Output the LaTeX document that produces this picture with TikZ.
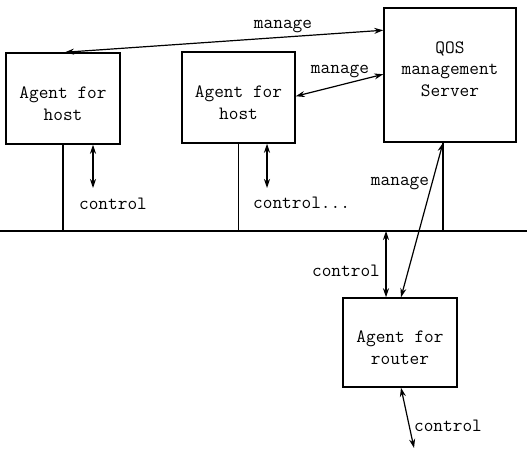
\documentclass[tikz,border=0pt]{standalone}
\usepackage{tikz}
\usetikzlibrary{calc, arrows.meta}

\tikzset{
    agentbox/.style={draw, line width=1.5pt},
    lbl/.style={font=\ttfamily\fontsize{18.8}{21.5}\selectfont, inner sep=0pt, align=center},
    link/.style={line width=1.2pt, {Stealth[length=9pt,width=6pt]}-{Stealth[length=9pt,width=6pt]}},
}

\begin{document}
\begin{tikzpicture}[x=1pt, y=-1pt]
    \useasboundingbox (0,0) rectangle (527,452);
    % The boxes
    \node[agentbox, minimum width=114pt, minimum height=91pt] (host1) at (63,98.5) {};
    \node[agentbox, minimum width=113pt, minimum height=91pt] (host2) at (238.5,97.5) {};
    \node[agentbox, minimum width=132pt, minimum height=134pt] (server) at (450,75) {};
    \node[agentbox, minimum width=114pt, minimum height=89pt] (router) at (400,342.5) {};
    \node[lbl] (host1txt) at ([yshift=-5pt]host1.center) {Agent for\\host};
    \node[lbl] (host2txt) at ([yshift=-5pt]host2.center) {Agent for\\host};
    \node[lbl] (servertxt) at ([yshift=6pt]server.center) {QOS\\management\\Server};
    \node[lbl] (routertxt) at ([yshift=-5pt]router.center) {Agent for\\router};
    % The network line
    \coordinate (busL) at (0,231);
    \coordinate (busR) at (527,231);
    \draw[line width=1.5pt] (busL) -- (busR);
    % Drops to the network
    \coordinate (srvfoot) at ([xshift=-7pt]server.south);
    \draw[line width=1.2pt] (host1.south) -- (host1.south |- busL);
    \draw[line width=1.2pt] (host2.south) -- (host2.south |- busL);
    \draw[line width=1.2pt] (srvfoot) -- (srvfoot |- busL);
    % Manage arrows
    \draw[link] ([yshift=-23pt]server.north west) -- ([xshift=2pt]host1.north);
    \draw[link] ([yshift=-67pt]server.north west) -- ([yshift=-45pt]host2.north east);
    \draw[link] (srvfoot) -- ([xshift=1pt]router.north);
    \node[lbl] (m1) at (283,26) {manage};
    \node[lbl] (m2) at (340,71) {manage};
    \node[lbl] (m3) at (400,183) {manage};
    % Control arrows
    \coordinate (c1) at (93,188);
    \coordinate (c2) at (267,188);
    \coordinate (cbus) at (386,231);
    \coordinate (cout) at (414,448);
    \draw[link] ([xshift=30pt]host1.south) -- (c1);
    \draw[link] ([xshift=28.5pt]host2.south) -- (c2);
    \draw[link] (cbus) -- ([xshift=-14pt]router.north);
    \draw[link] ([xshift=1pt]router.south) -- (cout);
    \node[lbl] (k1) at (113,204) {control};
    \node[lbl, anchor=west] (k2) at (253,203) {control...};
    \node[lbl] (k3) at (346,271) {control};
    \node[lbl] (k4) at (448,426) {control};
\end{tikzpicture}
\end{document}
